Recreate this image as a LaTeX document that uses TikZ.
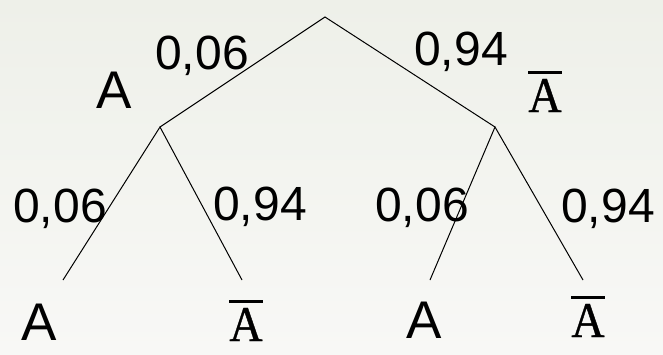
\documentclass[tikz,border=0pt]{standalone}
\usepackage{graphicx}
\usepackage{fontspec}
\setmainfont{Liberation Sans}
\newfontfamily\serifA[FakeBold=0.8]{Liberation Serif}
\definecolor{bgtop}{HTML}{EEF0E9}
\definecolor{bgbot}{HTML}{F8F8F6}
\newcommand{\Abar}{\vbox{\hrule height 2.6pt\kern 5pt\hbox{\serifA\fontsize{50}{52}\selectfont\scalebox{0.92}[1]{A}}}}
\begin{document}
\begin{tikzpicture}[x=1pt,y=-1pt,
  edge/.style={draw=black,line width=1pt},
  prob/.style={anchor=base,inner sep=0pt,font=\fontsize{48}{50}\selectfont},
  ev/.style={anchor=base,inner sep=0pt,font=\fontsize{53}{55}\selectfont},
  evbar/.style={anchor=base,inner sep=0pt}]
\shade[top color=bgtop,bottom color=bgbot] (0,0) rectangle (663,354);
\useasboundingbox (0,0) rectangle (663,354);
\coordinate (root) at (325,17);
\coordinate (L) at (160,127);
\coordinate (R) at (495,127);
\coordinate (LL) at (63,280);
\coordinate (LR) at (242,280);
\coordinate (RL) at (430,280);
\coordinate (RR) at (583,280);
\draw[edge] (L) -- (root) -- (R);
\draw[edge] (LL) -- (L) -- (LR);
\draw[edge] (RL) -- (R) -- (RR);
\node[prob] (p1) at (202,69) {0,06};
\node[prob] (p2) at (461,65) {0,94};
\node[ev] (e1) at (114,108) {A};
\node[evbar] (e2) at (545,112) {\Abar};
\node[prob] (p3) at (60,222) {0,06};
\node[prob] (p4) at (260,220) {0,94};
\node[prob] (p5) at (422,221) {0,06};
\node[prob] (p6) at (608,222) {0,94};
\node[ev] (e3) at (39,340) {A};
\node[evbar] (e4) at (246,341) {\Abar};
\node[ev] (e5) at (424,338) {A};
\node[evbar] (e6) at (588,337) {\Abar};
\end{tikzpicture}
\end{document}
